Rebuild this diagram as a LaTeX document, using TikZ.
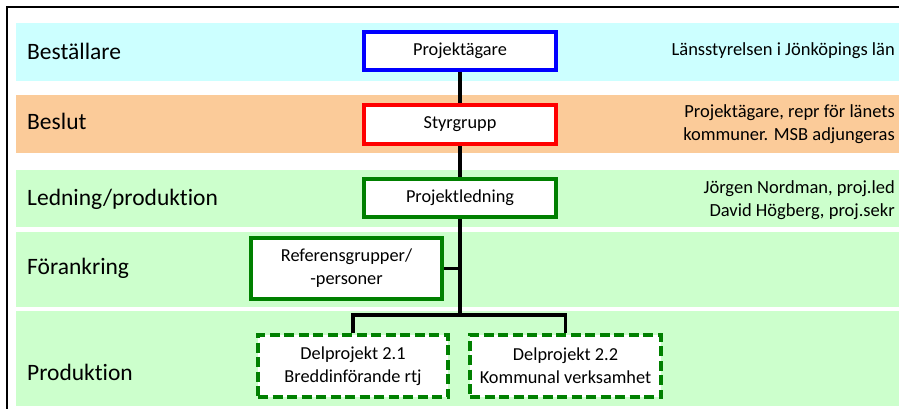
\documentclass[tikz,border=0pt]{standalone}
\usepackage{fontspec}
\setmainfont{Carlito}[Ligatures=CommonOff]
\begin{document}
\begin{tikzpicture}[x=1pt,y=-1pt,
  lbl/.style={anchor=west,inner sep=0pt,font=\fontsize{23.5}{28}\selectfont},
  note/.style={anchor=east,inner sep=0pt,align=right,font=\fontsize{18.5}{23}\selectfont},
  box/.style={draw,line width=4pt,fill=white,align=center,inner sep=0pt,font=\fontsize{18.3}{23}\selectfont},
  dbox/.style={box,dash pattern=on 10pt off 4.5pt},
  conn/.style={line width=3.2pt}]
\useasboundingbox (0,0) rectangle (899,408);
\definecolor{bcyan}{HTML}{CCFFFF}
\definecolor{borange}{HTML}{FBCB99}
\definecolor{bgreen}{HTML}{CCFFCC}
\definecolor{dgreen}{HTML}{008000}
% bands
\fill[bcyan] (16,23) rectangle (899,81);
\fill[borange] (16,95) rectangle (899,153);
\fill[bgreen] (16,170) rectangle (899,227);
\fill[bgreen] (16,232) rectangle (899,307);
\fill[bgreen] (16,311) rectangle (899,406);
% frame
\draw[line width=2.5pt] (7,410) -- (7,7) -- (902,7);
% labels
\node[lbl] (l1) at (27,51) {Beställare};
\node[lbl] (l2) at (27,121) {Beslut};
\node[lbl] (l3) at (27,199) {Ledning/produktion};
\node[lbl] (l4) at (27,268) {Förankring};
\node[lbl] (l5) at (27,372) {Produktion};
% notes
\node[note] (n1) at (895,51) {Länsstyrelsen i Jönköpings län};
\node[note] (n2) at (895,124) {Projektägare, repr för länets\\kommuner. MSB adjungeras};
\node[note] (n3) at (895,200) {Jörgen Nordman, proj.led\\David Högberg, proj.sekr};
% boxes
\node[box,draw=blue,minimum width=192pt,minimum height=38pt] (pa) at (460,51) {Projektägare};
\node[box,draw=red,minimum width=192pt,minimum height=39pt] (sg) at (460,124.5) {Styrgrupp};
\node[box,draw=dgreen,minimum width=192pt,minimum height=38pt] (pl) at (460,198) {Projektledning};
\node[box,draw=dgreen,minimum width=191pt,minimum height=61pt] (ref) at (346.5,268.5) {Referensgrupper/\\-personer};
\node[dbox,draw=dgreen,minimum width=190pt,minimum height=62pt] (d1) at (353,366) {Delprojekt 2.1\\Breddinförande rtj};
\node[dbox,draw=dgreen,minimum width=191pt,minimum height=62pt] (d2) at (565.5,366) {Delprojekt 2.2\\Kommunal verksamhet};
\coordinate (j) at (460,315);
% connectors
\draw[conn] (pa.south) -- (sg.north);
\draw[conn] (sg.south) -- (pl.north);
\draw[conn] (pl.south) -- (j);
\draw[conn] (ref.east) -- (ref.east -| j);
\draw[conn] (d1.north) |- (j) -| (d2.north);
\end{tikzpicture}
\end{document}
